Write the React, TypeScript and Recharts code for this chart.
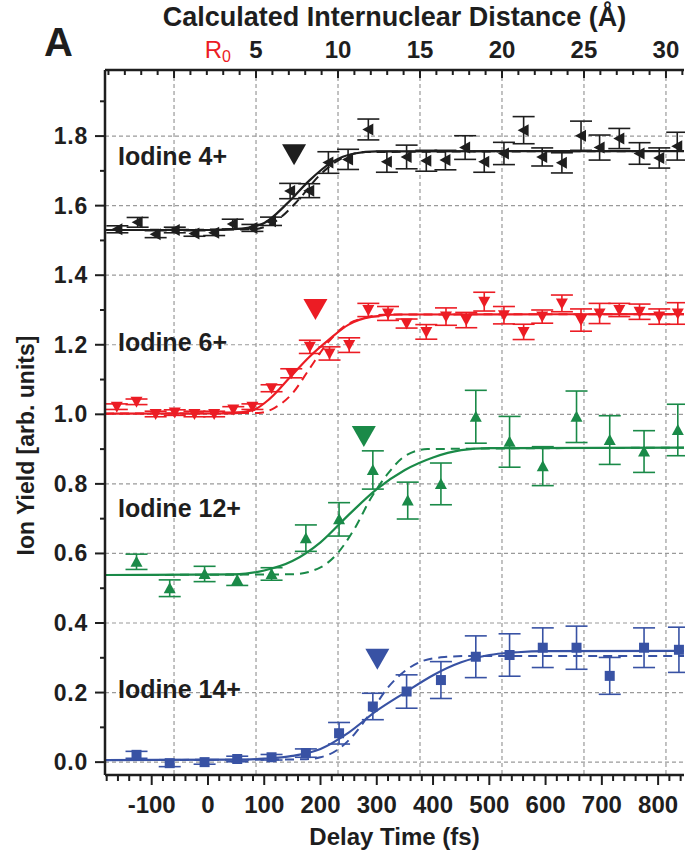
import React from "react";
import {
  ComposedChart,
  Line,
  Scatter,
  ErrorBar,
  XAxis,
  YAxis,
  ReferenceLine,
  ReferenceDot,
  Label,
} from "recharts";

// colours of the four charge states
const BLACK = "#1e1e1e";
const RED = "#ec1c24";
const GREEN = "#1a8a48";
const BLUE = "#3852a4";
const GRID = "#9a9a9a";
const FONT = "'Liberation Sans', Arial, sans-serif";

// measured points: delay (fs), yield, error
const ION4 = [
  { x: -161, y: 1.532, e: 0.01 }, { x: -125, y: 1.552, e: 0.014 }, { x: -93, y: 1.518, e: 0.01 },
  { x: -59, y: 1.53, e: 0.008 }, { x: -24, y: 1.52, e: 0.008 }, { x: 11, y: 1.522, e: 0.008 },
  { x: 44, y: 1.547, e: 0.014 }, { x: 79, y: 1.536, e: 0.01 }, { x: 112, y: 1.555, e: 0.012 },
  { x: 146, y: 1.642, e: 0.022 }, { x: 180, y: 1.643, e: 0.02 }, { x: 214, y: 1.724, e: 0.031 },
  { x: 249, y: 1.733, e: 0.029 }, { x: 285, y: 1.819, e: 0.03 }, { x: 318, y: 1.726, e: 0.03 },
  { x: 353, y: 1.74, e: 0.034 }, { x: 388, y: 1.729, e: 0.03 }, { x: 422, y: 1.731, e: 0.028 },
  { x: 457, y: 1.767, e: 0.034 }, { x: 491, y: 1.726, e: 0.03 }, { x: 526, y: 1.75, e: 0.032 },
  { x: 561, y: 1.817, e: 0.039 }, { x: 594, y: 1.74, e: 0.026 }, { x: 629, y: 1.723, e: 0.029 },
  { x: 663, y: 1.801, e: 0.042 }, { x: 696, y: 1.767, e: 0.036 }, { x: 731, y: 1.793, e: 0.029 },
  { x: 767, y: 1.75, e: 0.031 }, { x: 802, y: 1.737, e: 0.029 }, { x: 834, y: 1.771, e: 0.04 },
];
const ION6 = [
  { x: -162, y: 1.022, e: 0.008 }, { x: -127, y: 1.036, e: 0.008 }, { x: -93, y: 1.001, e: 0.008 },
  { x: -59, y: 1.005, e: 0.008 }, { x: -24, y: 1.001, e: 0.008 }, { x: 11, y: 1.001, e: 0.008 },
  { x: 45, y: 1.014, e: 0.008 }, { x: 79, y: 1.022, e: 0.008 }, { x: 113, y: 1.075, e: 0.01 },
  { x: 148, y: 1.118, e: 0.013 }, { x: 181, y: 1.194, e: 0.019 }, { x: 216, y: 1.175, e: 0.019 },
  { x: 251, y: 1.199, e: 0.021 }, { x: 285, y: 1.3, e: 0.019 }, { x: 320, y: 1.29, e: 0.02 },
  { x: 353, y: 1.261, e: 0.013 }, { x: 388, y: 1.237, e: 0.021 }, { x: 423, y: 1.281, e: 0.025 },
  { x: 459, y: 1.271, e: 0.022 }, { x: 491, y: 1.324, e: 0.027 }, { x: 526, y: 1.285, e: 0.025 },
  { x: 561, y: 1.237, e: 0.022 }, { x: 594, y: 1.281, e: 0.019 }, { x: 629, y: 1.319, e: 0.024 },
  { x: 663, y: 1.271, e: 0.032 }, { x: 696, y: 1.29, e: 0.029 }, { x: 731, y: 1.3, e: 0.019 },
  { x: 767, y: 1.295, e: 0.022 }, { x: 802, y: 1.281, e: 0.022 }, { x: 835, y: 1.29, e: 0.031 },
];
const ION12 = [
  { x: -127, y: 0.576, e: 0.022 }, { x: -68, y: 0.5, e: 0.024 }, { x: -6, y: 0.541, e: 0.022 },
  { x: 52, y: 0.524, e: 0.016 }, { x: 113, y: 0.541, e: 0.018 }, { x: 174, y: 0.644, e: 0.038 },
  { x: 233, y: 0.698, e: 0.048 }, { x: 293, y: 0.84, e: 0.055 }, { x: 355, y: 0.752, e: 0.053 },
  { x: 414, y: 0.8, e: 0.06 }, { x: 476, y: 0.993, e: 0.076 }, { x: 536, y: 0.921, e: 0.073 },
  { x: 595, y: 0.851, e: 0.056 }, { x: 655, y: 0.993, e: 0.074 }, { x: 714, y: 0.926, e: 0.07 },
  { x: 775, y: 0.893, e: 0.06 }, { x: 835, y: 0.955, e: 0.074 },
];
const ION14 = [
  { x: -127, y: 0.021, e: 0.01 }, { x: -68, y: -0.003, e: 0.01 }, { x: -6, y: 0.0, e: 0.006 },
  { x: 52, y: 0.009, e: 0.008 }, { x: 113, y: 0.014, e: 0.008 }, { x: 174, y: 0.026, e: 0.012 },
  { x: 233, y: 0.083, e: 0.031 }, { x: 293, y: 0.16, e: 0.038 }, { x: 353, y: 0.203, e: 0.048 },
  { x: 414, y: 0.236, e: 0.053 }, { x: 476, y: 0.303, e: 0.06 }, { x: 536, y: 0.308, e: 0.061 },
  { x: 595, y: 0.329, e: 0.057 }, { x: 655, y: 0.329, e: 0.062 }, { x: 714, y: 0.248, e: 0.053 },
  { x: 775, y: 0.329, e: 0.057 }, { x: 837, y: 0.323, e: 0.065 },
];

// fitted curves (solid = fit, dashed = model)
const FIT4 = [
  { x: -183, y: 1.53 }, { x: 0, y: 1.53 }, { x: 60, y: 1.534 }, { x: 100, y: 1.55 },
  { x: 140, y: 1.605 }, { x: 180, y: 1.672 }, { x: 220, y: 1.725 }, { x: 260, y: 1.75 },
  { x: 300, y: 1.756 }, { x: 846, y: 1.757 },
];
const MODEL4 = [
  { x: -183, y: 1.53 }, { x: 80, y: 1.532 }, { x: 120, y: 1.555 }, { x: 160, y: 1.615 },
  { x: 200, y: 1.69 }, { x: 240, y: 1.738 }, { x: 280, y: 1.754 }, { x: 846, y: 1.757 },
];
const FIT6 = [
  { x: -183, y: 1.002 }, { x: 40, y: 1.003 }, { x: 80, y: 1.012 }, { x: 110, y: 1.045 },
  { x: 145, y: 1.105 }, { x: 180, y: 1.165 }, { x: 215, y: 1.215 }, { x: 250, y: 1.258 },
  { x: 290, y: 1.28 }, { x: 340, y: 1.287 }, { x: 846, y: 1.288 },
];
const MODEL6 = [
  { x: -183, y: 1.002 }, { x: 90, y: 1.004 }, { x: 120, y: 1.02 }, { x: 150, y: 1.06 },
  { x: 180, y: 1.13 }, { x: 210, y: 1.2 }, { x: 240, y: 1.25 }, { x: 280, y: 1.278 },
  { x: 320, y: 1.287 }, { x: 846, y: 1.288 },
];
const FIT12 = [
  { x: -183, y: 0.538 }, { x: 50, y: 0.54 }, { x: 100, y: 0.551 }, { x: 150, y: 0.578 },
  { x: 200, y: 0.632 }, { x: 250, y: 0.711 }, { x: 300, y: 0.785 }, { x: 350, y: 0.84 },
  { x: 400, y: 0.876 }, { x: 450, y: 0.897 }, { x: 500, y: 0.903 }, { x: 846, y: 0.904 },
];
const MODEL12 = [
  { x: -183, y: 0.538 }, { x: 150, y: 0.54 }, { x: 200, y: 0.56 }, { x: 230, y: 0.6 },
  { x: 260, y: 0.67 }, { x: 290, y: 0.76 }, { x: 320, y: 0.83 }, { x: 350, y: 0.88 },
  { x: 390, y: 0.9 }, { x: 846, y: 0.904 },
];
const FIT14 = [
  { x: -183, y: 0.006 }, { x: 50, y: 0.007 }, { x: 100, y: 0.01 }, { x: 150, y: 0.018 },
  { x: 200, y: 0.038 }, { x: 250, y: 0.085 }, { x: 300, y: 0.148 }, { x: 350, y: 0.2 },
  { x: 400, y: 0.25 }, { x: 450, y: 0.287 }, { x: 500, y: 0.308 }, { x: 550, y: 0.316 },
  { x: 600, y: 0.319 }, { x: 846, y: 0.32 },
];
const MODEL14 = [
  { x: -183, y: 0.006 }, { x: 170, y: 0.008 }, { x: 200, y: 0.014 }, { x: 230, y: 0.035 },
  { x: 260, y: 0.08 }, { x: 290, y: 0.145 }, { x: 320, y: 0.215 }, { x: 350, y: 0.262 },
  { x: 380, y: 0.29 }, { x: 420, y: 0.302 }, { x: 460, y: 0.305 }, { x: 846, y: 0.305 },
];

// series labels and the arrow markers (delay, yield)
const SERIES_LABELS = [
  { text: "Iodine 4+", x: -160, y: 1.716 },
  { text: "Iodine 6+", x: -160, y: 1.182 },
  { text: "Iodine 12+", x: -160, y: 0.705 },
  { text: "Iodine 14+", x: -160, y: 0.185 },
];
const ARROWS = [
  { x: 153, y: 1.748, color: BLACK },
  { x: 191, y: 1.303, color: RED },
  { x: 277, y: 0.938, color: GREEN },
  { x: 301, y: 0.297, color: BLUE },
];

// axes
const DELAY_DOMAIN = [-183, 846];
const DIST_DOMAIN = [-4.21, 31.1];
const YIELD_DOMAIN = [-0.037, 1.99];
const DIST_LABELS = [5, 10, 15, 20, 25, 30];
const DIST_GRID = [0, 5, 10, 15, 20, 25, 30];
const R0 = 2.67;
const YIELD_LABELS = [0, 0.2, 0.4, 0.6, 0.8, 1.0, 1.2, 1.4, 1.6, 1.8];

// chart-level rows so the top / right axes (no series of their own) get a scale
const AXIS_ROWS = DIST_GRID.map((d) => ({ dist: d }));

const delayTicks: number[] = [];
for (let t = -180; t <= 840; t += 20) delayTicks.push(t);
const distTicks: number[] = [R0];
for (let d = -4; d <= 31; d++) distTicks.push(d);
const yieldTicks: number[] = [];
for (let i = 0; i <= 19; i++) yieldTicks.push(i / 10);

const isMajorYield = (v: number) => Math.round(v * 10) % 2 === 0;

const BottomTick = ({ x, y, payload }: any) => {
  const v = payload.value;
  const major = v % 100 === 0;
  return (
    <g>
      <line x1={x} y1={y} x2={x} y2={y + (major ? 10 : 6)} stroke={BLACK} strokeWidth={2} />
      {major && (
        <text x={x} y={y + 38} textAnchor="middle" fontFamily={FONT} fontWeight={700} fontSize={24} fill={BLACK}>
          {v}
        </text>
      )}
    </g>
  );
};

const TopTick = ({ x, y, payload }: any) => {
  const v = payload.value;
  if (v === R0) {
    return (
      <text x={x} y={y - 12} textAnchor="middle" fontFamily={FONT} fontSize={24} fill={RED}>
        R<tspan fontSize={16} dy={4}>0</tspan>
      </text>
    );
  }
  const major = v % 5 === 0;
  return (
    <g>
      <line x1={x} y1={y} x2={x} y2={y + (major ? 8 : 5)} stroke={BLACK} strokeWidth={2} />
      {major && DIST_LABELS.includes(v) && (
        <text x={x} y={y - 12} textAnchor="middle" fontFamily={FONT} fontWeight={700} fontSize={24} fill={BLACK}>
          {v}
        </text>
      )}
    </g>
  );
};

const LeftTick = ({ x, y, payload }: any) => {
  const v = payload.value;
  const major = isMajorYield(v);
  return (
    <g>
      <line x1={x} y1={y} x2={x - (major ? 10 : 5)} y2={y} stroke={BLACK} strokeWidth={2} />
      {major && (
        <text x={x - 17} y={y + 8} textAnchor="end" fontFamily={FONT} fontWeight={700} fontSize={23} letterSpacing={0.8} fill={BLACK}>
          {v.toFixed(1)}
        </text>
      )}
    </g>
  );
};

const RightTick = ({ x, y, payload }: any) => {
  const major = isMajorYield(payload.value);
  return <line x1={x} y1={y} x2={x - (major ? 10 : 5)} y2={y} stroke={BLACK} strokeWidth={2} />;
};

const markerShape = (kind: string, color: string) => (p: any) => {
  const { cx, cy } = p;
  if (cx == null || cy == null) return <g />;
  if (kind === "left")
    return <polygon points={`${cx - 6},${cy} ${cx + 5},${cy - 6} ${cx + 5},${cy + 6}`} fill={color} />;
  if (kind === "down")
    return <polygon points={`${cx - 6},${cy - 5} ${cx + 6},${cy - 5} ${cx},${cy + 6}`} fill={color} />;
  if (kind === "up")
    return <polygon points={`${cx - 6},${cy + 5} ${cx + 6},${cy + 5} ${cx},${cy - 6}`} fill={color} />;
  return <rect x={cx - 5} y={cy - 5} width={10} height={10} fill={color} />;
};

const axisLine = { stroke: BLACK, strokeWidth: 2.5 };

const App = () => {
  const series = [
    { pts: ION4, fit: FIT4, model: MODEL4, color: BLACK, kind: "left" },
    { pts: ION6, fit: FIT6, model: MODEL6, color: RED, kind: "down" },
    { pts: ION12, fit: FIT12, model: MODEL12, color: GREEN, kind: "up" },
    { pts: ION14, fit: FIT14, model: MODEL14, color: BLUE, kind: "square" },
  ];

  return (
    <div style={{ position: "absolute", left: 0, top: 0, width: 685, height: 852, background: "#fff" }}>
      <ComposedChart width={685} height={852} data={AXIS_ROWS} margin={{ top: 0, right: 1, bottom: 0, left: 0 }}>
        <XAxis
          xAxisId="b"
          type="number"
          dataKey="x"
          domain={DELAY_DOMAIN}
          allowDataOverflow
          ticks={delayTicks}
          interval={0}
          tickSize={0}
          tickMargin={0}
          tickLine={false}
          tick={BottomTick}
          height={77}
          axisLine={axisLine}
        >
          <Label
            content={({ viewBox }: any) => (
              <text
                x={viewBox.x + viewBox.width / 2}
                y={viewBox.y + 70}
                textAnchor="middle"
                fontFamily={FONT}
                fontWeight={700}
                fontSize={24}
                fill={BLACK}
              >
                Delay Time (fs)
              </text>
            )}
          />
        </XAxis>
        <XAxis
          xAxisId="t"
          orientation="top"
          type="number"
          dataKey="dist"
          domain={DIST_DOMAIN}
          allowDataOverflow
          ticks={distTicks}
          interval={0}
          tickSize={0}
          tickMargin={0}
          tickLine={false}
          tick={TopTick}
          height={70}
          axisLine={axisLine}
        >
          <Label
            content={({ viewBox }: any) => (
              <text
                x={viewBox.x + viewBox.width / 2}
                y={26}
                textAnchor="middle"
                fontFamily={FONT}
                fontWeight={700}
                fontSize={27}
                fill={BLACK}
              >
                Calculated Internuclear Distance (Å)
              </text>
            )}
          />
        </XAxis>
        <YAxis
          yAxisId="l"
          type="number"
          dataKey="y"
          domain={YIELD_DOMAIN}
          allowDataOverflow
          ticks={yieldTicks}
          interval={0}
          tickSize={0}
          tickMargin={0}
          tickLine={false}
          tick={LeftTick}
          width={105}
          axisLine={axisLine}
        >
          <Label
            content={({ viewBox }: any) => (
              <text
                x={34}
                y={viewBox.y + viewBox.height / 2 + 23}
                transform={`rotate(-90 34 ${viewBox.y + viewBox.height / 2 + 23})`}
                textAnchor="middle"
                fontFamily={FONT}
                fontWeight={700}
                fontSize={23}
                fill={BLACK}
              >
                Ion Yield [arb. units]
              </text>
            )}
          />
        </YAxis>
        <YAxis
          yAxisId="r"
          orientation="right"
          type="number"
          domain={YIELD_DOMAIN}
          allowDataOverflow
          ticks={yieldTicks}
          interval={0}
          tickSize={0}
          tickMargin={0}
          tickLine={false}
          tick={RightTick}
          width={0}
          axisLine={axisLine}
        />

        {DIST_GRID.map((d) => (
          <ReferenceLine
            key={`v${d}`}
            xAxisId="t"
            yAxisId="l"
            x={d}
            stroke={GRID}
            strokeDasharray="4 3"
            strokeWidth={1.2}
          />
        ))}
        {YIELD_LABELS.map((v) => (
          <ReferenceLine
            key={`h${v}`}
            xAxisId="b"
            yAxisId="l"
            y={v}
            stroke={GRID}
            strokeDasharray="4 3"
            strokeWidth={1.2}
          />
        ))}

        {series.map((s, i) => (
          <Line
            key={`m${i}`}
            data={s.model}
            dataKey="y"
            xAxisId="b"
            yAxisId="l"
            type="monotone"
            dot={false}
            activeDot={false}
            stroke={s.color}
            strokeWidth={2}
            strokeDasharray="9 6"
            isAnimationActive={false}
          />
        ))}
        {series.map((s, i) => (
          <Line
            key={`f${i}`}
            data={s.fit}
            dataKey="y"
            xAxisId="b"
            yAxisId="l"
            type="monotone"
            dot={false}
            activeDot={false}
            stroke={s.color}
            strokeWidth={2.2}
            isAnimationActive={false}
          />
        ))}
        {series.map((s, i) => (
          <Scatter
            key={`s${i}`}
            data={s.pts}
            xAxisId="b"
            yAxisId="l"
            shape={markerShape(s.kind, s.color)}
            isAnimationActive={false}
          >
            <ErrorBar
              dataKey="e"
              direction="y"
              width={11}
              stroke={s.color}
              strokeWidth={1.6}
              isAnimationActive={false}
            />
          </Scatter>
        ))}

        {ARROWS.map((a, i) => (
          <ReferenceDot
            key={`a${i}`}
            xAxisId="b"
            yAxisId="l"
            x={a.x}
            y={a.y}
            r={0}
            shape={(p: any) => (
              <polygon
                points={`${p.cx - 12},${p.cy - 10} ${p.cx + 12},${p.cy - 10} ${p.cx},${p.cy + 11}`}
                fill={a.color}
              />
            )}
          />
        ))}
        {SERIES_LABELS.map((l, i) => (
          <ReferenceDot
            key={`l${i}`}
            xAxisId="b"
            yAxisId="l"
            x={l.x}
            y={l.y}
            r={0}
            shape={(p: any) => (
              <text x={p.cx} y={p.cy} fontFamily={FONT} fontWeight={700} fontSize={25} fill={BLACK}>
                {l.text}
              </text>
            )}
          />
        ))}
      </ComposedChart>
      <div
        style={{
          position: "absolute",
          left: 44,
          top: 22,
          fontFamily: FONT,
          fontWeight: 700,
          fontSize: 40,
          lineHeight: "40px",
          color: BLACK,
        }}
      >
        A
      </div>
    </div>
  );
};

export default App;
